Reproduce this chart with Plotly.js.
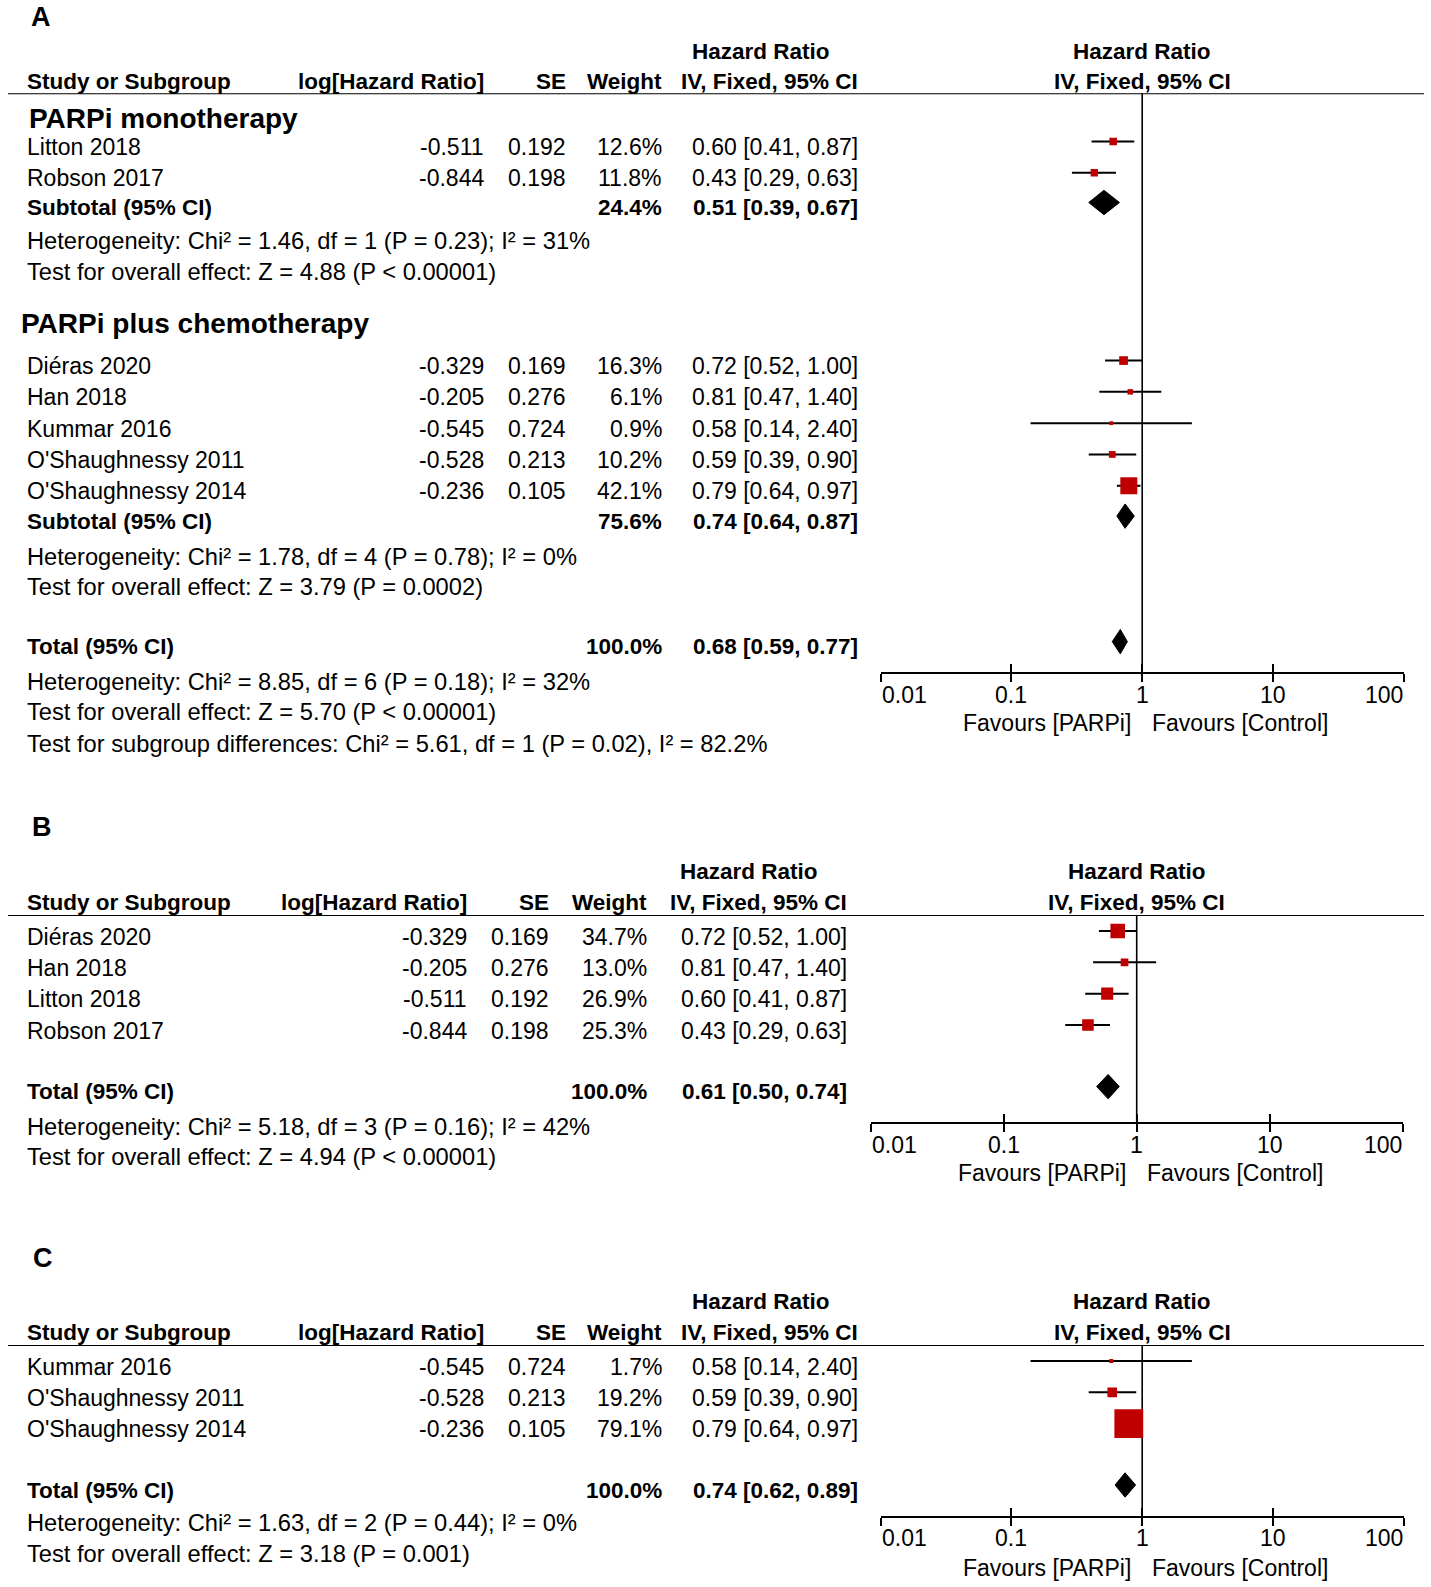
<!DOCTYPE html>
<html>
<head>
<meta charset="utf-8">
<script src="https://cdn.plot.ly/plotly-3.0.1.min.js"></script>
<style>
html, body { margin: 0; padding: 0; background: #ffffff; }
#chart { width: 1431px; height: 1587px; }
</style>
</head>
<body>
<div id="chart"></div>
<script>
// ===================== DATA =====================
const colHeaders = ["Study or Subgroup", "log[Hazard Ratio]", "SE", "Weight", "Hazard Ratio", "IV, Fixed, 95% CI"];
const tickValues = [0.01, 0.1, 1, 10, 100];
const tickLabels = ["0.01", "0.1", "1", "10", "100"];
const favoursLeft = "Favours [PARPi]";
const favoursRight = "Favours [Control]";

// Panel A, subgroup 1
const subgroupNamesA = ["PARPi monotherapy", "PARPi plus chemotherapy"];
const studiesA1 = ["Litton 2018", "Robson 2017"];
const logHRA1 = [-0.511, -0.844];
const seA1 = [0.192, 0.198];
const weightA1 = [12.6, 11.8];
const hrA1 = [0.60, 0.43];
const loA1 = [0.41, 0.29];
const hiA1 = [0.87, 0.63];

// Panel A, subgroup 2
const studiesA2 = ["Diéras 2020", "Han 2018", "Kummar 2016", "O'Shaughnessy 2011", "O'Shaughnessy 2014"];
const logHRA2 = [-0.329, -0.205, -0.545, -0.528, -0.236];
const seA2 = [0.169, 0.276, 0.724, 0.213, 0.105];
const weightA2 = [16.3, 6.1, 0.9, 10.2, 42.1];
const hrA2 = [0.72, 0.81, 0.58, 0.59, 0.79];
const loA2 = [0.52, 0.47, 0.14, 0.39, 0.64];
const hiA2 = [1.00, 1.40, 2.40, 0.90, 0.97];

// Panel A summaries: subtotal 1, subtotal 2, total
const summaryLabelsA = ["Subtotal (95% CI)", "Subtotal (95% CI)", "Total (95% CI)"];
const summaryWeightA = [24.4, 75.6, 100.0];
const summaryHRA = [0.51, 0.74, 0.68];
const summaryLoA = [0.39, 0.64, 0.59];
const summaryHiA = [0.67, 0.87, 0.77];
const hetA = [
  "Heterogeneity: Chi² = 1.46, df = 1 (P = 0.23); I² = 31%",
  "Heterogeneity: Chi² = 1.78, df = 4 (P = 0.78); I² = 0%",
  "Heterogeneity: Chi² = 8.85, df = 6 (P = 0.18); I² = 32%"
];
const testA = [
  "Test for overall effect: Z = 4.88 (P < 0.00001)",
  "Test for overall effect: Z = 3.79 (P = 0.0002)",
  "Test for overall effect: Z = 5.70 (P < 0.00001)"
];
const subgroupDiffA = "Test for subgroup differences: Chi² = 5.61, df = 1 (P = 0.02), I² = 82.2%";

// Panel B
const studiesB = ["Diéras 2020", "Han 2018", "Litton 2018", "Robson 2017"];
const logHRB = [-0.329, -0.205, -0.511, -0.844];
const seB = [0.169, 0.276, 0.192, 0.198];
const weightB = [34.7, 13.0, 26.9, 25.3];
const hrB = [0.72, 0.81, 0.60, 0.43];
const loB = [0.52, 0.47, 0.41, 0.29];
const hiB = [1.00, 1.40, 0.87, 0.63];
const summaryLabelsB = ["Total (95% CI)"];
const summaryWeightB = [100.0];
const summaryHRB = [0.61];
const summaryLoB = [0.50];
const summaryHiB = [0.74];
const hetB = ["Heterogeneity: Chi² = 5.18, df = 3 (P = 0.16); I² = 42%"];
const testB = ["Test for overall effect: Z = 4.94 (P < 0.00001)"];

// Panel C
const studiesC = ["Kummar 2016", "O'Shaughnessy 2011", "O'Shaughnessy 2014"];
const logHRC = [-0.545, -0.528, -0.236];
const seC = [0.724, 0.213, 0.105];
const weightC = [1.7, 19.2, 79.1];
const hrC = [0.58, 0.59, 0.79];
const loC = [0.14, 0.39, 0.64];
const hiC = [2.40, 0.90, 0.97];
const summaryLabelsC = ["Total (95% CI)"];
const summaryWeightC = [100.0];
const summaryHRC = [0.74];
const summaryLoC = [0.62];
const summaryHiC = [0.89];
const hetC = ["Heterogeneity: Chi² = 1.63, df = 2 (P = 0.44); I² = 0%"];
const testC = ["Test for overall effect: Z = 3.18 (P = 0.001)"];

// ===================== LAYOUT / STYLE =====================
const W = 1431, H = 1587, ROW = 31.3;
const FONT = "Liberation Sans, Arial, Helvetica, sans-serif";
const SZ = 23, SZS = 23.7, SZB = 22.5, SZH = 28, SZL = 27;
const RED = "#c00000";
const MARK_OFF = -0.18, DIAM_OFF = -0.16, DIAM_H = 0.39;

const colsAC = { study: 26, log: 485, se: 567, weight: 663, hr: 859, hrHead: 761 };
const colsB  = { study: 26, log: 467.5, se: 549.5, weight: 647.7, hr: 848, hrHead: 749 };

const traces = [];
const annotations = [];
const shapes = [];
const layout = {
  width: W, height: H,
  margin: { l: 0, r: 0, t: 0, b: 0 },
  paper_bgcolor: "#ffffff", plot_bgcolor: "rgba(0,0,0,0)",
  showlegend: false, hovermode: false,
  font: { family: FONT, color: "#000" },
  annotations: annotations, shapes: shapes
};

function txt(text, x, row, yref, anchor, size, bold, xref, xshift) {
  annotations.push({
    text: bold ? "<b>" + text + "</b>" : text,
    x: xref ? x : x / W, xref: xref || "paper",
    y: row, yref: yref,
    xanchor: anchor, yanchor: "middle",
    xshift: xshift || 0,
    showarrow: false, borderpad: 0,
    font: { family: FONT, size: size, color: "#000" }
  });
}

function sqSize(w) { return Math.max(3.5, 3.5 + 0.32 * w); }

function setupPanel(p, k) {
  const sfx = k === 0 ? "" : String(k + 1);
  const xid = "x" + sfx, yid = "y" + sfx;
  const tNum = String(k + 4);
  const tid = "y" + tNum;
  p.xid = xid; p.yid = yid; p.tid = tid;

  // forest y axis: header rule to x axis line
  const topPx = p.P0 + p.rowTop * ROW, botPx = p.P0 + p.rowAxis * ROW;
  layout["yaxis" + sfx] = {
    domain: [1 - botPx / H, 1 - topPx / H], range: [p.rowAxis, p.rowTop],
    visible: false, fixedrange: true, showgrid: false, zeroline: false
  };
  // text y axis: whole panel, same row-to-pixel mapping
  const tTopPx = Math.max(0, p.P0 + (p.rowLetter - 0.5) * ROW);
  const tBotPx = Math.min(H, p.P0 + (p.rowLast + 0.6) * ROW);
  layout["yaxis" + tNum] = {
    domain: [1 - tBotPx / H, 1 - tTopPx / H],
    range: [(tBotPx - p.P0) / ROW, (tTopPx - p.P0) / ROW],
    anchor: xid, visible: false, fixedrange: true, showgrid: false, zeroline: false
  };
  traces.push({ x: [1], y: [0], xaxis: xid, yaxis: tid, mode: "markers",
                marker: { opacity: 0 }, hoverinfo: "skip" });

  const common = {
    type: "log", range: [-2, 2], anchor: yid,
    tickvals: tickValues, showticklabels: false, showgrid: false, zeroline: false,
    ticklen: 8, tickwidth: 2, tickcolor: "#000", fixedrange: true
  };
  layout["xaxis" + sfx] = Object.assign({}, common, {
    domain: [p.axisPx[0] / W, p.axisPx[1] / W],
    showline: true, linecolor: "#000", linewidth: 2, ticks: "outside"
  });
  const oid = String(k + 4);
  layout["xaxis" + oid] = Object.assign({}, common, { overlaying: xid, ticks: "inside", showline: false });
  traces.push({ x: [1], y: [p.rowTop], xaxis: "x" + oid, yaxis: yid, mode: "markers",
                marker: { opacity: 0 }, hoverinfo: "skip" });

  // line of no effect
  traces.push({ x: [1, 1], y: [p.rowTop, p.rowAxis], xaxis: xid, yaxis: yid, mode: "lines",
                line: { color: "#000", width: 1.6 }, hoverinfo: "skip" });

  // header rule
  shapes.push({ type: "line", xref: "paper", yref: yid, x0: 8 / W, x1: 1424 / W,
                y0: p.rowTop, y1: p.rowTop, line: { color: "#000", width: 2 } });

  // panel letter
  txt(p.letter, p.letterPx, p.rowLetter, tid, "center", SZL, true);

  // headers
  const c = p.cols;
  txt(colHeaders[4], c.hrHead, p.rowH1, tid, "center", SZB, true);
  txt(colHeaders[0], c.study, p.rowH2, tid, "left", SZB, true);
  txt(colHeaders[1], c.log, p.rowH2, tid, "right", SZB, true);
  txt(colHeaders[2], c.se, p.rowH2, tid, "right", SZB, true);
  txt(colHeaders[3], c.weight, p.rowH2, tid, "right", SZB, true);
  txt(colHeaders[5], c.hr, p.rowH2, tid, "right", SZB, true);
  txt(colHeaders[4], 0, p.rowH1, tid, "center", SZB, true, xid);
  txt(colHeaders[5], 0, p.rowH2, tid, "center", SZB, true, xid);

  // tick labels
  const anchors = ["left", "center", "center", "center", "right"];
  tickValues.forEach((v, i) => txt(tickLabels[i], Math.log10(v), p.rowTicks, tid, anchors[i], SZ, false, xid));
  txt(favoursLeft, 0, p.rowFav, tid, "right", SZ, false, xid, -10);
  txt(favoursRight, 0, p.rowFav, tid, "left", SZ, false, xid, 9);
}

function addStudies(p, names, logHR, se, weight, hr, lo, hi, rows) {
  const c = p.cols;
  const cx = [], cy = [];
  names.forEach((n, i) => {
    const r = rows[i];
    txt(n, c.study, r, p.tid, "left", SZ, false);
    txt(logHR[i].toFixed(3), c.log, r, p.tid, "right", SZ, false);
    txt(se[i].toFixed(3), c.se, r, p.tid, "right", SZ, false);
    txt(weight[i].toFixed(1) + "%", c.weight, r, p.tid, "right", SZ, false);
    txt(hr[i].toFixed(2) + " [" + lo[i].toFixed(2) + ", " + hi[i].toFixed(2) + "]", c.hr, r, p.tid, "right", SZ, false);
    cx.push(lo[i], hi[i], null);
    cy.push(r + MARK_OFF, r + MARK_OFF, null);
  });
  traces.push({ x: cx, y: cy, xaxis: p.xid, yaxis: p.yid, mode: "lines",
                line: { color: "#000", width: 2 }, hoverinfo: "skip", connectgaps: false });
  traces.push({ x: hr, y: rows.map(r => r + MARK_OFF), xaxis: p.xid, yaxis: p.yid, mode: "markers",
                marker: { symbol: "square", color: RED, opacity: 1, size: weight.map(sqSize), line: { width: 0 } },
                hoverinfo: "skip" });
}

function addSummary(p, label, weight, hr, lo, hi, row) {
  const c = p.cols;
  txt(label, c.study, row, p.tid, "left", SZB, true);
  txt(weight.toFixed(1) + "%", c.weight, row, p.tid, "right", SZB, true);
  txt(hr.toFixed(2) + " [" + lo.toFixed(2) + ", " + hi.toFixed(2) + "]", c.hr, row, p.tid, "right", SZB, true);
  const y = row + DIAM_OFF;
  traces.push({ x: [lo, hr, hi, hr, lo], y: [y, y - DIAM_H, y, y + DIAM_H, y],
                xaxis: p.xid, yaxis: p.yid, mode: "lines", fill: "toself", fillcolor: "#000",
                line: { color: "#000", width: 1 }, hoverinfo: "skip" });
}

function addStat(p, text, row) { txt(text, p.cols.study, row, p.tid, "left", SZS, false); }
function addHeading(p, text, row, px) { txt(text, px, row, p.tid, "left", SZH, true); }

// ---- panel layouts ----
const panelA = { letter: "A", letterPx: 41, P0: 115.8, axisPx: [880.7, 1403.7], cols: colsAC,
  rowTop: -0.72, rowAxis: 17.78, rowLetter: -3.17, rowH1: -2.07, rowH2: -1.09, rowTicks: 18.5, rowFav: 19.4, rowLast: 20.06 };
const panelB = { letter: "B", letterPx: 42, P0: 936.7, axisPx: [870.7, 1402.7], cols: colsB,
  rowTop: -0.69, rowAxis: 5.91, rowLetter: -3.51, rowH1: -2.07, rowH2: -1.08, rowTicks: 6.65, rowFav: 7.55, rowLast: 7.55 };
const panelC = { letter: "C", letterPx: 43, P0: 1366.7, axisPx: [880.7, 1403.7], cols: colsAC,
  rowTop: -0.69, rowAxis: 4.77, rowLetter: -3.47, rowH1: -2.08, rowH2: -1.09, rowTicks: 5.48, rowFav: 6.44, rowLast: 6.44 };

setupPanel(panelA, 0);
setupPanel(panelB, 1);
setupPanel(panelC, 2);

// Panel A content
addHeading(panelA, subgroupNamesA[0], 0.08, 28);
addStudies(panelA, studiesA1, logHRA1, seA1, weightA1, hrA1, loA1, hiA1, [1, 2]);
addSummary(panelA, summaryLabelsA[0], summaryWeightA[0], summaryHRA[0], summaryLoA[0], summaryHiA[0], 2.93);
addStat(panelA, hetA[0], 4.0);
addStat(panelA, testA[0], 5.0);
addHeading(panelA, subgroupNamesA[1], 6.65, 20);
addStudies(panelA, studiesA2, logHRA2, seA2, weightA2, hrA2, loA2, hiA2, [8, 9, 10, 11, 12]);
addSummary(panelA, summaryLabelsA[1], summaryWeightA[1], summaryHRA[1], summaryLoA[1], summaryHiA[1], 12.95);
addStat(panelA, hetA[1], 14.08);
addStat(panelA, testA[1], 15.04);
addSummary(panelA, summaryLabelsA[2], summaryWeightA[2], summaryHRA[2], summaryLoA[2], summaryHiA[2], 16.96);
addStat(panelA, hetA[2], 18.08);
addStat(panelA, testA[2], 19.04);
addStat(panelA, subgroupDiffA, 20.06);

// Panel B content
addStudies(panelB, studiesB, logHRB, seB, weightB, hrB, loB, hiB, [0, 1, 2, 3]);
addSummary(panelB, summaryLabelsB[0], summaryWeightB[0], summaryHRB[0], summaryLoB[0], summaryHiB[0], 4.95);
addStat(panelB, hetB[0], 6.08);
addStat(panelB, testB[0], 7.03);

// Panel C content
addStudies(panelC, studiesC, logHRC, seC, weightC, hrC, loC, hiC, [0, 1, 2]);
addSummary(panelC, summaryLabelsC[0], summaryWeightC[0], summaryHRC[0], summaryLoC[0], summaryHiC[0], 3.94);
addStat(panelC, hetC[0], 5.0);
addStat(panelC, testC[0], 5.98);

Plotly.newPlot("chart", traces, layout, { displayModeBar: false, staticPlot: true });
</script>
</body>
</html>
